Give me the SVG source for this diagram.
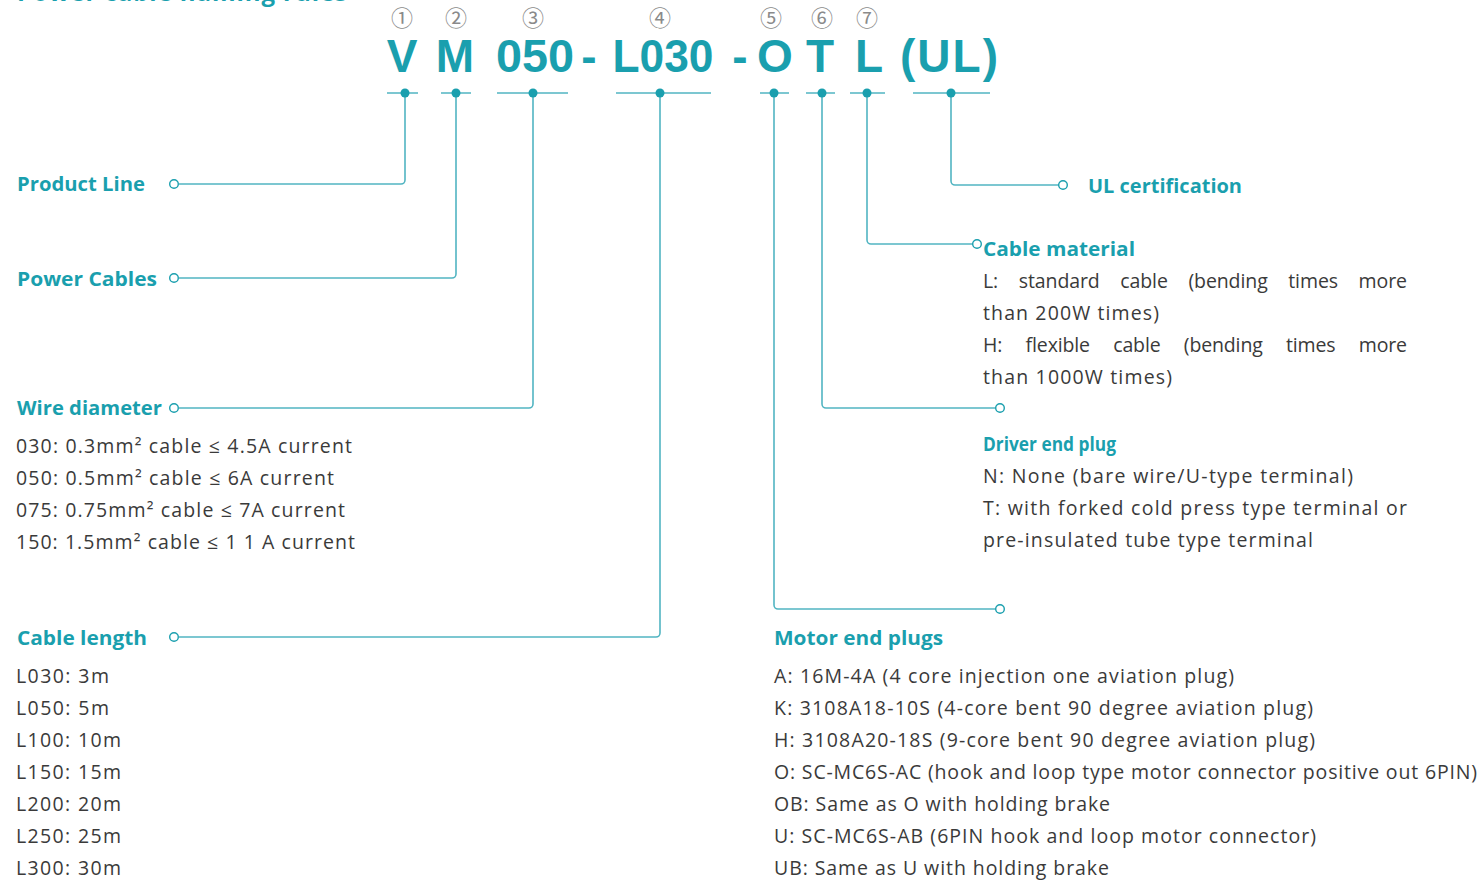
<svg xmlns="http://www.w3.org/2000/svg" width="1483" height="880" viewBox="0 0 1483 880">
<style>
.title{font-family:"Open Sans","Noto Sans",sans-serif;font-weight:700;fill:#1a9fae}
.code{font-family:"Liberation Sans",Arial,sans-serif;font-weight:700;font-size:46px;fill:#1a9fae;text-anchor:middle}
.num{font-family:"Noto Sans CJK SC","DejaVu Sans",sans-serif;font-size:22px;fill:#8a8a8a;text-anchor:middle}
.head{font-family:"Open Sans","Noto Sans",sans-serif;font-weight:700;font-size:20px;fill:#1a9fae}
.body{font-family:"Open Sans","Noto Sans",sans-serif;font-size:19.5px;fill:#3a3a3a}
.ln{fill:none;stroke:#52b5c2;stroke-width:1.6}
.dot{fill:#1a9fae}
.end{fill:#fff;stroke:#1a9fae;stroke-width:1.4}
</style>
<rect width="1483" height="880" fill="#fff"/>
<text class="title" x="17" y="1" font-size="24" textLength="330">Power cable naming rules</text>

<g id="code">
<text class="num" x="402" y="26">①</text>
<text class="num" x="456" y="26">②</text>
<text class="num" x="533" y="26">③</text>
<text class="num" x="660" y="26">④</text>
<text class="num" x="771" y="26">⑤</text>
<text class="num" x="822" y="26">⑥</text>
<text class="num" x="867" y="26">⑦</text>
<text class="code" x="402" y="72">V</text>
<text class="code" x="455" y="72">M</text>
<text class="code" x="535" y="72" textLength="78" lengthAdjust="spacingAndGlyphs">050</text>
<text class="code" x="589" y="72">-</text>
<text class="code" x="663" y="72" textLength="101" lengthAdjust="spacingAndGlyphs">L030</text>
<text class="code" x="740" y="72">-</text>
<text class="code" x="775" y="72">O</text>
<text class="code" x="820" y="72">T</text>
<text class="code" x="869" y="72">L</text>
<text class="code" x="949" y="72" textLength="98">(UL)</text>
</g>

<g id="connectors">
<path class="ln" d="M387 93H418M441 93H471M497 93H568M616 93H711M760 93H789M806 93H835M850 93H885M913 93H990"/>
<path class="ln" d="M405 93V180a4 4 0 0 1 -4 4H179"/>
<path class="ln" d="M456 93V274a4 4 0 0 1 -4 4H179"/>
<path class="ln" d="M533 93V404a4 4 0 0 1 -4 4H179"/>
<path class="ln" d="M660 93V633a4 4 0 0 1 -4 4H179"/>
<path class="ln" d="M774 93V605a4 4 0 0 0 4 4H996"/>
<path class="ln" d="M822 93V404a4 4 0 0 0 4 4H996"/>
<path class="ln" d="M867 93V240a4 4 0 0 0 4 4H973"/>
<path class="ln" d="M951 93V181a4 4 0 0 0 4 4H1059"/>
<circle class="dot" cx="405" cy="93" r="4.5"/>
<circle class="dot" cx="456" cy="93" r="4.5"/>
<circle class="dot" cx="533" cy="93" r="4.5"/>
<circle class="dot" cx="660" cy="93" r="4.5"/>
<circle class="dot" cx="774" cy="93" r="4.5"/>
<circle class="dot" cx="822" cy="93" r="4.5"/>
<circle class="dot" cx="867" cy="93" r="4.5"/>
<circle class="dot" cx="951" cy="93" r="4.5"/>
<circle class="end" cx="174" cy="184" r="4.3"/>
<circle class="end" cx="174" cy="278" r="4.3"/>
<circle class="end" cx="174" cy="408" r="4.3"/>
<circle class="end" cx="174" cy="637" r="4.3"/>
<circle class="end" cx="1000" cy="609" r="4.3"/>
<circle class="end" cx="1000" cy="408" r="4.3"/>
<circle class="end" cx="977" cy="244" r="4.3"/>
<circle class="end" cx="1063" cy="185" r="4.3"/>
</g>

<g id="product-line"><text class="head" x="17" y="191" textLength="128" lengthAdjust="spacingAndGlyphs">Product Line</text></g>
<g id="power-cables"><text class="head" x="17" y="286" textLength="140" lengthAdjust="spacingAndGlyphs">Power Cables</text></g>
<g id="wire-diameter">
<text class="head" x="17" y="415" textLength="145" lengthAdjust="spacingAndGlyphs">Wire diameter</text>
<text class="body" x="16" y="453" textLength="336">030: 0.3mm² cable ≤ 4.5A current</text>
<text class="body" x="16" y="485" textLength="318">050: 0.5mm² cable ≤ 6A current</text>
<text class="body" x="16" y="517" textLength="329">075: 0.75mm² cable ≤ 7A current</text>
<text class="body" x="16" y="549" textLength="339">150: 1.5mm² cable ≤ 1 1 A current</text>
</g>
<g id="cable-length">
<text class="head" x="17" y="645" textLength="130" lengthAdjust="spacingAndGlyphs">Cable length</text>
<text class="body" x="16" y="683" textLength="93">L030: 3m</text>
<text class="body" x="16" y="715" textLength="93">L050: 5m</text>
<text class="body" x="16" y="747" textLength="105">L100: 10m</text>
<text class="body" x="16" y="779" textLength="105">L150: 15m</text>
<text class="body" x="16" y="811" textLength="105">L200: 20m</text>
<text class="body" x="16" y="843" textLength="105">L250: 25m</text>
<text class="body" x="16" y="875" textLength="105">L300: 30m</text>
</g>
<g id="ul-certification"><text class="head" x="1088" y="193" textLength="154" lengthAdjust="spacingAndGlyphs">UL certification</text></g>
<g id="cable-material">
<text class="head" x="983" y="256" textLength="152" lengthAdjust="spacingAndGlyphs">Cable material</text>
<text class="body" x="983" y="288" word-spacing="15.6" textLength="424">L: standard cable (bending times more</text>
<text class="body" x="983" y="320" textLength="176">than 200W times)</text>
<text class="body" x="983" y="352" word-spacing="18.4" textLength="424">H: flexible cable (bending times more</text>
<text class="body" x="983" y="384" textLength="189">than 1000W times)</text>
</g>
<g id="driver-end-plug">
<text class="head" x="983" y="451" textLength="133" lengthAdjust="spacingAndGlyphs">Driver end plug</text>
<text class="body" x="983" y="483" textLength="370">N: None (bare wire/U-type terminal)</text>
<text class="body" x="983" y="515" textLength="424">T: with forked cold press type terminal or</text>
<text class="body" x="983" y="547" textLength="330">pre-insulated tube type terminal</text>
</g>
<g id="motor-end-plugs">
<text class="head" x="774" y="645" textLength="169" lengthAdjust="spacingAndGlyphs">Motor end plugs</text>
<text class="body" x="774" y="683" textLength="460">A:  16M-4A (4 core injection one aviation plug)</text>
<text class="body" x="774" y="715" textLength="539">K:  3108A18-10S (4-core bent 90 degree aviation plug)</text>
<text class="body" x="774" y="747" textLength="541">H:  3108A20-18S (9-core bent 90 degree aviation plug)</text>
<text class="body" x="774" y="779" textLength="703">O: SC-MC6S-AC (hook and loop type motor connector positive out 6PIN)</text>
<text class="body" x="774" y="811" textLength="336">OB: Same as O with holding brake</text>
<text class="body" x="774" y="843" textLength="542">U:  SC-MC6S-AB (6PIN hook and loop motor connector)</text>
<text class="body" x="774" y="875" textLength="335">UB: Same as U with holding brake</text>
</g>
</svg>
